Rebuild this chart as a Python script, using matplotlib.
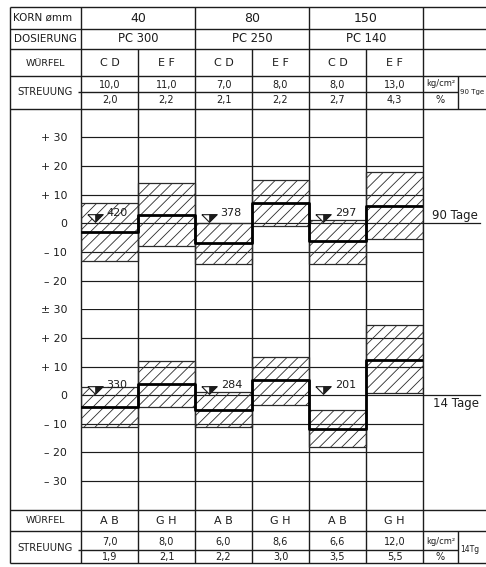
import matplotlib
matplotlib.use("Agg")
import matplotlib.pyplot as plt

plt.rcParams['font.family'] = ['DejaVu Sans']
plt.rcParams['hatch.linewidth'] = 0.6

# ---------------- data ----------------
korn = ["40", "80", "150"]
dosierung = ["PC 300", "PC 250", "PC 140"]

wuerfel_90 = ["C D", "E F", "C D", "E F", "C D", "E F"]
streuung_90_kg = ["10,0", "11,0", "7,0", "8,0", "8,0", "13,0"]
streuung_90_pct = ["2,0", "2,2", "2,1", "2,2", "2,7", "4,3"]

wuerfel_14 = ["A B", "G H", "A B", "G H", "A B", "G H"]
streuung_14_kg = ["7,0", "8,0", "6,0", "8,6", "6,6", "12,0"]
streuung_14_pct = ["1,9", "2,1", "2,2", "3,0", "3,5", "5,5"]

# deviations in % (90 days)
mean_90 = [-3, 3, -7, 7, -6, 6]
low_90 = [-13, -8, -14, -1, -14, -5.6]
high_90 = [7, 14, 0, 15, 1, 18]
strength_90 = ["420", "378", "297"]      # CD columns

# deviations in % (14 days)
mean_14 = [-4, 4, -5, 5.3, -11.7, 12.3]
low_14 = [-11, -4, -11, -3.5, -18, 0.8]
high_14 = [3, 12, 1.2, 13.4, -5.3, 24.6]
strength_14 = ["330", "284", "201"]

yticks_90 = [30, 20, 10, 0, -10, -20]
ylabels_90 = ["+ 30", "+ 20", "+ 10", "0", "– 10", "– 20"]
yticks_14 = [30, 20, 10, 0, -10, -20, -30]
ylabels_14 = ["± 30", "+ 20", "+ 10", "0", "– 10", "– 20", "– 30"]

# ---------------- layout ----------------
W, H = 486, 567
INK = "#1c1c1c"
fig = plt.figure(figsize=(W / 100, H / 100), dpi=100)
fig.patch.set_facecolor("white")

ov = fig.add_axes([0, 0, 1, 1])
ov.set_xlim(0, W)
ov.set_ylim(H, 0)
ov.axis("off")

X0, XL, XR, XS = 10, 81, 423, 458
CW = (XR - XL) / 6
cols = [XL + CW * i for i in range(7)]
T = [7, 29, 49, 76, 108.6]
TMID = 91.5
B = [509.6, 531, 563]
BMID = 550

lw = 1.0
def hl(y, x1, x2):
    ov.plot([x1, x2], [y, y], color=INK, lw=lw, solid_capstyle="butt")
def vl(x, y1, y2):
    ov.plot([x, x], [y1, y2], color=INK, lw=lw, solid_capstyle="butt")

for y in T + B:
    hl(y, X0, W)
hl(TMID, XL - 3, XS)
hl(BMID, XL - 3, XS)
for i, x in enumerate(cols):
    vl(x, T[0] if i % 2 == 0 else T[2], B[-1])
vl(X0, T[0], B[-1])
vl(XS, T[3], T[4])
vl(XS, B[1], B[2])

# ---- top table text ----
lab_x = (X0 + XL) / 2
ov.text(13, 18, "KORN ømm", fontsize=7.5, ha="left", va="center", color=INK)
ov.text(lab_x, 39, "DOSIERUNG", fontsize=7.5, ha="center", va="center", color=INK)
ov.text(lab_x, 63, "WÜRFEL", fontsize=6.8, ha="center", va="center", color=INK)
ov.text(lab_x, 92, "STREUUNG", fontsize=7.2, ha="center", va="center", color=INK)
for k in range(3):
    cx = cols[2 * k + 1]
    ov.text(cx, 18, korn[k], fontsize=9, ha="center", va="center", color=INK)
    ov.text(cx, 39, dosierung[k], fontsize=8.3, ha="center", va="center", color=INK)
for i in range(6):
    cx = (cols[i] + cols[i + 1]) / 2
    ov.text(cx, 63, wuerfel_90[i], fontsize=8, ha="center", va="center", color=INK)
    ov.text(cx, 85, streuung_90_kg[i], fontsize=7, ha="center", va="center", color=INK)
    ov.text(cx, 100, streuung_90_pct[i], fontsize=7, ha="center", va="center", color=INK)
ov.text((XR + XS) / 2, 84, "kg/cm²", fontsize=6, ha="center", va="center", color=INK)
ov.text((XR + XS) / 2, 100, "%", fontsize=7, ha="center", va="center", color=INK)
ov.text(XS + 1.5, 92, "90 Tge", fontsize=5, ha="left", va="center", color=INK)

# ---- bottom table text ----
ov.text(lab_x, 520.5, "WÜRFEL", fontsize=6.8, ha="center", va="center", color=INK)
ov.text(lab_x, 548, "STREUUNG", fontsize=7.2, ha="center", va="center", color=INK)
for i in range(6):
    cx = (cols[i] + cols[i + 1]) / 2
    ov.text(cx, 520.5, wuerfel_14[i], fontsize=8, ha="center", va="center", color=INK)
    ov.text(cx, 542, streuung_14_kg[i], fontsize=7, ha="center", va="center", color=INK)
    ov.text(cx, 557, streuung_14_pct[i], fontsize=7, ha="center", va="center", color=INK)
ov.text((XR + XS) / 2, 541, "kg/cm²", fontsize=6, ha="center", va="center", color=INK)
ov.text((XR + XS) / 2, 557, "%", fontsize=7, ha="center", va="center", color=INK)
ov.text(XS + 2, 550, "14Tg", fontsize=5.5, ha="left", va="center", color=INK)

# ---------------- charts ----------------
def chart(rect, ylim, yticks, ylabels, means, lows, highs, strengths):
    ax = fig.add_axes(rect)
    ax.set_facecolor("none")
    ax.set_xlim(0, 6)
    ax.set_ylim(*ylim)
    for s in ax.spines.values():
        s.set_visible(False)
    ax.set_xticks([])
    ax.set_yticks(yticks)
    ax.set_yticklabels(ylabels, fontsize=7.8, color=INK)
    ax.tick_params(axis="y", length=0, pad=10)
    ax.grid(axis="y", color=INK, lw=0.85)
    x = list(range(6))
    ax.bar([i + 0.5 for i in x], [h - l for h, l in zip(highs, lows)], bottom=lows,
           width=1.0, fill=False, hatch="///", edgecolor="#2a2a2a", linewidth=0.9, zorder=2)
    ax.step(list(range(7)), list(means) + [means[-1]], where="post", color="black",
            lw=2.0, zorder=4)
    for k, s in enumerate(strengths):
        c = 2 * k
        ax.plot(c + 0.24, 1.8, marker=[(-1, 0.5), (1, 0.5), (0, -0.5), (-1, 0.5)],
                markersize=11, markerfacecolor="white", markeredgecolor=INK,
                markeredgewidth=0.8, linestyle="none", zorder=5)
        ax.plot(c + 0.24, 1.8, marker=[(0, 0.5), (1, 0.5), (0, -0.5), (0, 0.5)],
                markersize=11, markerfacecolor=INK, markeredgecolor=INK,
                markeredgewidth=0.5, linestyle="none", zorder=6)
        ax.text(c + 0.45, 3.6, s, fontsize=8, ha="left", va="center", color=INK, zorder=6)
    ax.plot([6, 7], [0, 0], color=INK, lw=0.9, clip_on=False)
    return ax

ax_u = chart([XL / W, 1 - 309.4 / H, (XR - XL) / W, 200.8 / H], (-30, 40),
             yticks_90, ylabels_90, mean_90, low_90, high_90, strength_90)
ax_u.text(6.16, 0.6, "90 Tage", fontsize=8.5, ha="left", va="bottom", color=INK)

ax_l = chart([XL / W, 1 - 509.6 / H, (XR - XL) / W, 200.2 / H], (-40, 30),
             yticks_14, ylabels_14, mean_14, low_14, high_14, strength_14)
ax_l.text(6.17, -0.8, "14 Tage", fontsize=8.5, ha="left", va="top", color=INK)

fig.savefig("out.png", dpi=100, facecolor="white")
